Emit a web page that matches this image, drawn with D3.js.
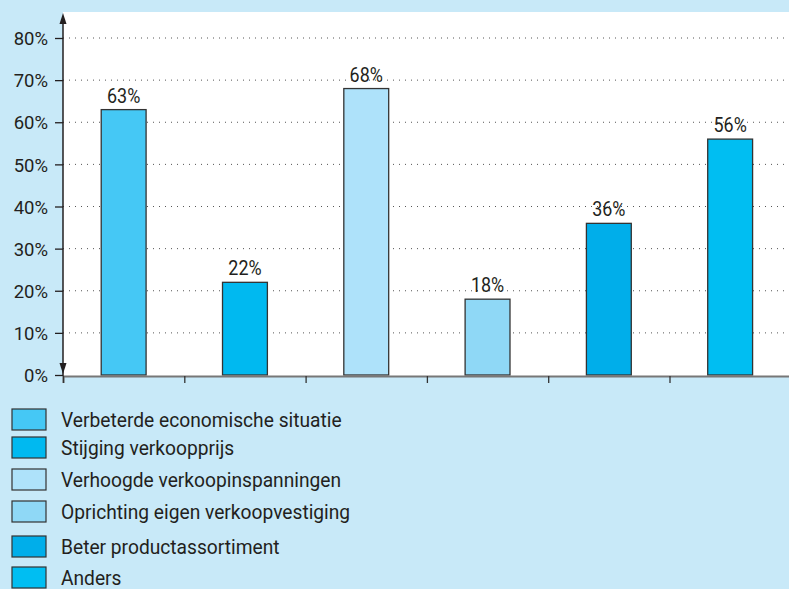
<!DOCTYPE html>
<html>
<head>
<meta charset="utf-8">
<script src="https://cdn.jsdelivr.net/npm/d3@7"></script>
<style>
  body { margin: 0; background: #c8e9f8; }
  text { font-family: "Roboto", sans-serif; fill: #231f20; }
</style>
</head>
<body>
<script>
// data
var categories = ["Verbeterde economische situatie", "Stijging verkoopprijs", "Verhoogde verkoopinspanningen",
                  "Oprichting eigen verkoopvestiging", "Beter productassortiment", "Anders"];
var values = [63, 22, 68, 18, 36, 56];
var colors = ["#45c8f5", "#00b9f0", "#aee2fa", "#8fd8f6", "#00aeea", "#00bef2"];
var yTicks = [0, 10, 20, 30, 40, 50, 60, 70, 80];

var screen = {width: 789, height: 589};
var margins = {left: 63, right: 0, top: 12, bottom: 213};

var graph = {
    width: screen.width - margins.left - margins.right,
    height: screen.height - margins.top - margins.bottom
};

var svg = d3.select("body")
    .append("svg")
    .attr("width", screen.width)
    .attr("height", screen.height);

// white plot area
svg.append("rect")
    .attr("x", margins.left)
    .attr("y", margins.top)
    .attr("width", graph.width)
    .attr("height", graph.height)
    .attr("fill", "white");

var xScale = d3.scaleBand()
    .domain(categories)
    .range([0, 121.3 * 6])
    .paddingInner(0.63)
    .paddingOuter(0.315);

var yScale = d3.scaleLinear()
    .domain([0, 80])
    .range([363, 26]);

var plot = svg.append("g")
    .attr("transform", "translate(" + margins.left + "," + margins.top + ")");

// dotted grid
plot.selectAll(".grid")
    .data(yTicks.slice(1))
    .enter()
    .append("line")
    .attr("x1", 0)
    .attr("x2", graph.width)
    .attr("y1", function(d){ return yScale(d); })
    .attr("y2", function(d){ return yScale(d); })
    .attr("stroke", "#555")
    .attr("stroke-width", 1)
    .attr("stroke-dasharray", "1,5");

// bars
plot.selectAll(".bar")
    .data(values)
    .enter()
    .append("rect")
    .attr("x", function(d, i){ return xScale(categories[i]); })
    .attr("y", function(d){ return yScale(d); })
    .attr("width", xScale.bandwidth())
    .attr("height", function(d){ return yScale(0) - yScale(d); })
    .attr("fill", function(d, i){ return colors[i]; })
    .attr("stroke", "#333")
    .attr("stroke-width", 1.3);

// value labels
plot.selectAll(".lbl")
    .data(values)
    .enter()
    .append("text")
    .attr("transform", function(d, i){
        return "translate(" + (xScale(categories[i]) + xScale.bandwidth() / 2) + "," + (yScale(d) - 7) + ") scale(0.92,1)";
    })
    .attr("text-anchor", "middle")
    .attr("font-size", 19.5)
    .text(function(d){ return d + "%"; });

// x axis
var xAxis = d3.axisBottom(d3.scaleLinear().domain([0, 6]).range([0, 121.3 * 6]))
    .tickValues([0, 1, 2, 3, 4, 5])
    .tickSize(7)
    .tickFormat("");
var gx = plot.append("g")
    .attr("transform", "translate(0," + (yScale(0) + 1) + ")")
    .call(xAxis);
gx.select(".domain").attr("stroke", "#777").attr("stroke-width", 2);
gx.selectAll(".tick line").attr("stroke", "#333").attr("stroke-width", 1.3);

// y axis
var yAxis = d3.axisLeft(yScale)
    .tickValues(yTicks)
    .tickSize(8)
    .tickFormat(function(d){ return d + "%"; });
var gy = plot.append("g").call(yAxis);
gy.select(".domain").remove();
gy.selectAll(".tick line").attr("stroke", "#231f20").attr("stroke-width", 1.3);
gy.selectAll(".tick text")
    .attr("x", -15)
    .attr("dy", "0.36em")
    .attr("font-size", 18.5)
    .attr("font-family", null);

plot.append("line")
    .attr("x1", 0).attr("x2", 0)
    .attr("y1", 6).attr("y2", yScale(0) + 1)
    .attr("stroke", "#231f20")
    .attr("stroke-width", 1.5);
// arrows
plot.append("path")
    .attr("d", "M0,1 L-3.5,12 L3.5,12 Z")
    .attr("fill", "#231f20");
plot.append("path")
    .attr("d", "M0," + (yScale(0) - 1) + " L-3.5," + (yScale(0) - 12) + " L3.5," + (yScale(0) - 12) + " Z")
    .attr("fill", "#231f20");

// legend
var legendY = [409, 437, 469, 501, 536, 567];
var legend = svg.selectAll(".legend")
    .data(categories)
    .enter()
    .append("g")
    .attr("transform", function(d, i){ return "translate(12," + legendY[i] + ")"; });

legend.append("rect")
    .attr("width", 34)
    .attr("height", 21)
    .attr("fill", function(d, i){ return colors[i]; })
    .attr("stroke", "#333")
    .attr("stroke-width", 1.2);

legend.append("text")
    .attr("transform", "translate(49,18) scale(0.96,1)")
    .attr("font-size", 20)
    .text(function(d){ return d; });
</script>
</body>
</html>
